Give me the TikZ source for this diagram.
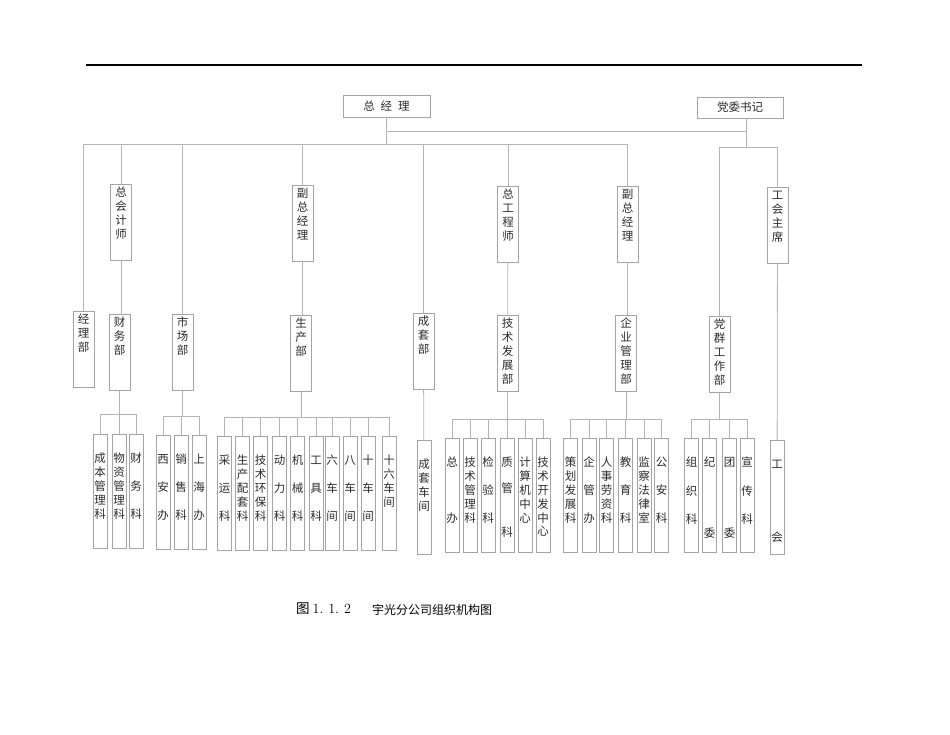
\documentclass[tikz,border=0pt]{standalone}
\usepackage{fontspec}
\newfontfamily\cjk{Noto Sans CJK SC}
\definecolor{linegray}{HTML}{B4B4B4}
\definecolor{boxgray}{HTML}{A4A4A4}
\definecolor{textgray}{HTML}{2A2A2A}

\tikzset{
    lbl/.style={draw=boxgray, line width=0.8pt, inner sep=0pt, align=center, text=textgray,
        font=\cjk\fontsize{11.5}{13.8}\selectfont},
    headbox/.style={lbl, minimum width=87pt, minimum height=22pt},
    midbox/.style={lbl, anchor=north, text width=21pt, text height=12.5pt, text depth=63.5pt},
    lowbox/.style={lbl, anchor=north, text width=14pt, text height=28.5pt, text depth=85.5pt},
    wire/.style={draw=linegray, line width=0.8pt},
}

\begin{document}
\begin{tikzpicture}[x=1pt, y=-1pt]
        \useasboundingbox (0,0) rectangle (950,735);
        \draw[line width=1.3pt] (86,65) -- (862,65);

        % heads
        \node[name=zjl, headbox] at (386.5,106) {总\hspace{6pt}经\hspace{6pt}理};
        \node[name=dwsj, headbox, minimum width=86pt, minimum height=21pt] at (740,107.5) {党委书记};

        % second row
        \node[name=zkjs, midbox] at (121,184) {总\\会\\计\\师};
        \node[name=fzjl_1, midbox] at (302.5,185) {副\\总\\经\\理};
        \node[name=zgcs, midbox] at (508,186) {总\\工\\程\\师};
        \node[name=fzjl_2, midbox] at (627.5,186) {副\\总\\经\\理};
        \node[name=ghzx, midbox] at (777.5,187) {工\\会\\主\\席};

        % departments
        \node[name=jlb, midbox] at (83.5,311) {经\\理\\部};
        \node[name=cwb, midbox] at (119.5,314) {财\\务\\部};
        \node[name=shicb, midbox] at (182.5,314) {市\\场\\部};
        \node[name=shengcb, midbox] at (301,315) {生\\产\\部};
        \node[name=ctb, midbox] at (423.5,313) {成\\套\\部};
        \node[name=jsfzb, midbox] at (507.5,315) {技\\术\\发\\展\\部};
        \node[name=qyglb, midbox] at (626,315) {企\\业\\管\\理\\部};
        \node[name=dqgzb, midbox] at (719.5,316) {党\\群\\工\\作\\部};

        \draw[wire] (zjl.south) ++(0,14) -| ([xshift=6.5pt]dwsj.south);
        \foreach \n in {jlb, zkjs, shicb, fzjl_1, ctb, zgcs, fzjl_2}
            \draw[wire] (zjl.south) -- ++(0,27) -| (\n.north);
        \foreach \n in {dqgzb, ghzx}
            \draw[wire] ([xshift=6.5pt]dwsj.south) -- ++(0,29) -| (\n.north);

        \draw[wire] (zkjs.south) -- (zkjs.south |- cwb.north);
        \draw[wire] (fzjl_1.south) -- (fzjl_1.south |- shengcb.north);
        \draw[wire] (zgcs) -- (jsfzb);
        \draw[wire] (fzjl_2.south) -- (fzjl_2.south |- qyglb.north);

        % sections
        \node[name=ctcj, lowbox] at (424,440) {成\\套\\车\\间};
        \node[name=gh, lowbox] at (777,440) {工\\[59pt]会};
        \draw[wire] (ctb) -- (ctcj);
        \draw[wire] (ghzx) -- (gh);

        \foreach \x/\t [count=\i] in {100/{成\\本\\管\\理\\科}, 119/{物\\资\\管\\理\\科}, 136/{财\\[14pt]务\\[14pt]科}}
            {
                \node[name=cw_\i, lowbox] at (\x,434) {\t};
                \draw[wire] (cwb.south) -- ++(0,24) -| (cw_\i.north);
            }
        \foreach \x/\t [count=\i] in {163/{西\\[14pt]安\\[14pt]办}, 181/{销\\[14pt]售\\[14pt]科}, 199/{上\\[14pt]海\\[14pt]办}}
            {
                \node[name=shic_\i, lowbox] at (\x,435) {\t};
                \draw[wire] (shicb.south) -- ++(0,26) -| (shic_\i.north);
            }
        \foreach \x/\t [count=\i] in {224.5/{采\\[14pt]运\\[14pt]科}, 242.5/{生\\产\\配\\套\\科}, 260.5/{技\\术\\环\\保\\科},
                279.5/{动\\[14pt]力\\[14pt]科}, 297.5/{机\\[14pt]械\\[14pt]科}, 316/{工\\[14pt]具\\[14pt]科},
                332/{六\\[14pt]车\\[14pt]间}, 350/{八\\[14pt]车\\[14pt]间}, 368/{十\\[14pt]车\\[14pt]间}, 389/{十\\六\\车\\间}}
            {
                \node[name=sheng_\i, lowbox] at (\x,436) {\t};
                \draw[wire] (shengcb.south) -- ++(0,26) -| (sheng_\i.north);
            }
        \foreach \x/\t [count=\i] in {452/{总\\[42pt]办}, 470/{技\\术\\管\\理\\科}, 488/{检\\[14pt]验\\[14pt]科},
                507/{质\\[12pt]管\\[30pt]科}, 525/{计\\算\\机\\中\\心}, 543/{技\\术\\开\\发\\中\\心}}
            {
                \node[name=jsfz_\i, lowbox] at (\x,438) {\t};
                \draw[wire] (jsfzb.south) -- ++(0,28) -| (jsfz_\i.north);
            }
        \foreach \x/\t [count=\i] in {570.5/{策\\划\\发\\展\\科}, 589/{企\\[14pt]管\\[14pt]办}, 606.5/{人\\事\\劳\\资\\科},
                625.5/{教\\[14pt]育\\[14pt]科}, 644/{监\\察\\法\\律\\室}, 661.5/{公\\[14pt]安\\[14pt]科}}
            {
                \node[name=qygl_\i, lowbox] at (\x,438) {\t};
                \draw[wire] (qyglb.south) -- ++(0,28) -| (qygl_\i.north);
            }
        \foreach \x/\t [count=\i] in {691.5/{组\\[14.5pt]织\\[14.5pt]科}, 709.5/{纪\\[57pt]委}, 729.5/{团\\[57pt]委}, 747/{宣\\[14.5pt]传\\[14.5pt]科}}
            {
                \node[name=dqgz_\i, lowbox] at (\x,438) {\t};
                \draw[wire] (dqgzb.south) -- ++(0,27) -| (dqgz_\i.north);
            }

        % caption
        \node[name=tuhao, anchor=west, inner sep=0pt, font=\fontsize{14}{16}\selectfont] at (296,609)
            {{\cjk\fontsize{13.5}{16}\selectfont 图}\hspace{3pt}1.\hspace{5pt}1.\hspace{5pt}2};
        \node[name=tuming, anchor=west, inner sep=0pt, font=\cjk\fontsize{12}{14}\selectfont] at (372,609.5) {宇光分公司组织机构图};
    \end{tikzpicture}
\end{document}
